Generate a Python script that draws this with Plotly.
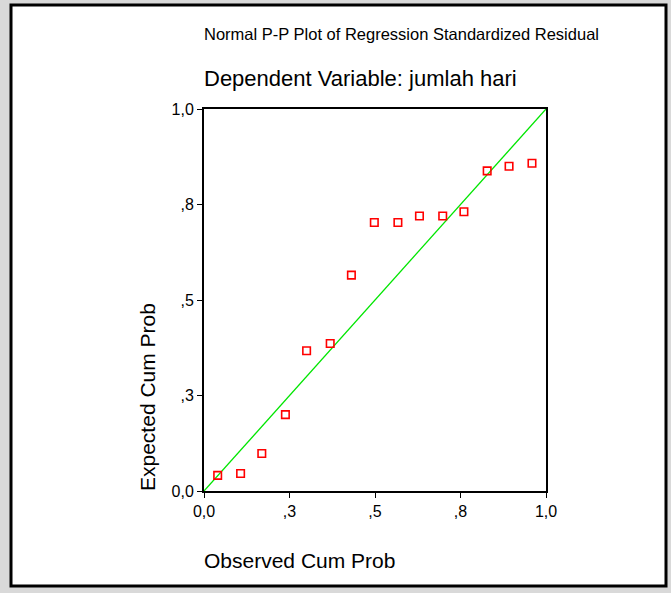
import plotly.graph_objects as go

observed = [0.040, 0.107, 0.169, 0.238, 0.300, 0.369, 0.431, 0.498, 0.567, 0.630, 0.698, 0.760, 0.828, 0.892, 0.959]
expected = [0.041, 0.046, 0.098, 0.200, 0.367, 0.386, 0.565, 0.703, 0.703, 0.720, 0.720, 0.731, 0.838, 0.850, 0.858]
diag = [0.0, 1.0]
tick_vals = [0.0, 0.25, 0.5, 0.75, 1.0]
tick_text = ["0,0", ",3", ",5", ",8", "1,0"]

FONT = "Liberation Sans, Arial, sans-serif"

fig = go.Figure()
fig.add_trace(go.Scatter(x=diag, y=diag, mode="lines",
                         line=dict(color="#00e600", width=1.3), hoverinfo="skip", showlegend=False))
fig.add_trace(go.Scatter(x=observed, y=expected, mode="markers",
                         marker=dict(symbol="square-open", size=7.5, color="#ff0000",
                                     line=dict(color="#ff0000", width=1.6)),
                         showlegend=False))

axis_common = dict(range=[0, 1], tickvals=tick_vals, ticktext=tick_text,
                   showgrid=False, zeroline=False, showline=True, mirror=True,
                   linecolor="black", linewidth=2, ticks="outside", ticklen=5,
                   tickcolor="black", tickwidth=1,
                   tickfont=dict(family=FONT, size=16, color="black"))

PW, PH = 342, 382
fig.update_layout(
    width=671, height=593,
    margin=dict(l=204, r=125, t=109, b=102),
    paper_bgcolor="#d9d9d9", plot_bgcolor="white",
    xaxis=axis_common, yaxis=axis_common,
    font=dict(family=FONT, color="black"),
    shapes=[dict(type="rect", xref="paper", yref="paper",
                 x0=(11 - 204) / PW, x1=(666 - 204) / PW,
                 y0=(491 - 586) / PH, y1=(491 - 5) / PH,
                 line=dict(color="black", width=3), fillcolor="white", layer="below")],
    annotations=[
        dict(text="Normal P-P Plot of Regression Standardized Residual", xref="paper", yref="paper",
             x=(202 - 204) / PW, y=(491 - 34) / PH, xanchor="left", yanchor="middle", showarrow=False,
             font=dict(size=16.5, family=FONT)),
        dict(text="Dependent Variable: jumlah hari", xref="paper", yref="paper",
             x=(202 - 204) / PW, y=(491 - 78) / PH, xanchor="left", yanchor="middle", showarrow=False,
             font=dict(size=22, family=FONT)),
        dict(text="Observed Cum Prob", xref="paper", yref="paper",
             x=(202 - 204) / PW, y=(491 - 560) / PH, xanchor="left", yanchor="middle", showarrow=False,
             font=dict(size=21, family=FONT)),
        dict(text="Expected Cum Prob", xref="paper", yref="paper",
             x=(147 - 204) / PW, y=(491 - 493) / PH, xanchor="center", yanchor="bottom",
             textangle=-90, showarrow=False, font=dict(size=21, family=FONT)),
    ],
)

fig.write_html("out.html")
